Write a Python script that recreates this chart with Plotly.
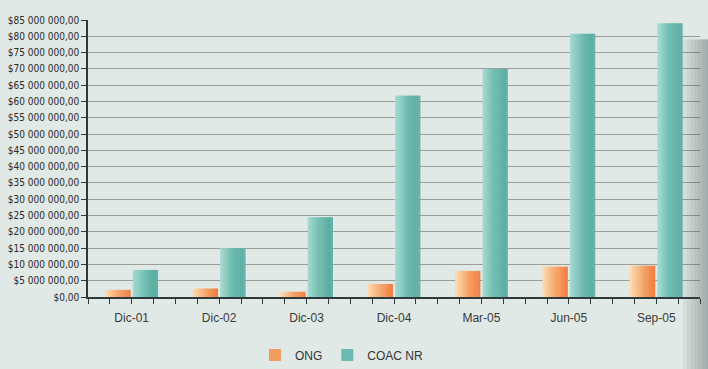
import plotly.graph_objects as go

# Quarterly balances (in dollars) per category
categories = ["Dic-01", "Dic-02", "Dic-03", "Dic-04", "Mar-05", "Jun-05", "Sep-05"]
ong_values = [2_200_000, 2_600_000, 1_600_000, 4_000_000, 8_000_000, 9_300_000, 9_600_000]
coac_values = [8_300_000, 15_000_000, 24_500_000, 61_800_000, 70_000_000, 80_800_000, 84_000_000]

y_tick_values = list(range(0, 85_000_001, 5_000_000))


def money(v):
    if v == 0:
        return "$0,00"
    return "$" + f"{v:,}".replace(",", " ") + ",00"


y_tick_labels = [money(v) for v in y_tick_values]

positions = list(range(len(categories)))

BG = "#e0e9e5"
AXIS = "#2d3a39"
LABEL_FONT = "Liberation Sans, Arial, Helvetica, sans-serif"
NARROW_FONT = "Liberation Sans Narrow, Arial Narrow, DejaVu Sans Condensed, sans-serif"

# Horizontal colour ramps used to shade each bar (left edge -> right edge)
ong_ramp = [(0.0, (252, 222, 180)), (0.5, (246, 166, 106)), (1.0, (240, 122, 60))]
coac_ramp = [(0.0, (168, 219, 210)), (0.45, (112, 189, 178)), (0.85, (92, 173, 163)), (1.0, (102, 180, 170))]


def ramp_color(ramp, t):
    for (t0, c0), (t1, c1) in zip(ramp, ramp[1:]):
        if t0 <= t <= t1:
            f = (t - t0) / (t1 - t0) if t1 > t0 else 0
            r, g, b = (round(a + (bb - a) * f) for a, bb in zip(c0, c1))
            return f"rgb({r},{g},{b})"
    r, g, b = ramp[-1][1]
    return f"rgb({r},{g},{b})"


BAR_W = 0.29
STRIPS = 12
strip_w = BAR_W / STRIPS

fig = go.Figure()


def add_shaded_bars(name, values, start, ramp, legend_strip):
    for k in range(STRIPS):
        t = (k + 0.5) / STRIPS
        fig.add_trace(
            go.Bar(
                x=positions,
                y=values,
                width=strip_w + (0.004 if k < STRIPS - 1 else 0),
                offset=start + k * strip_w,
                marker=dict(color=ramp_color(ramp, t), line=dict(width=0)),
                name=name,
                legendgroup=name,
                showlegend=(k == legend_strip),
                hovertemplate=name + ": %{y:$,.2f}<extra></extra>",
            )
        )


add_shaded_bars("ONG", ong_values, -0.302, ong_ramp, 7)
add_shaded_bars("COAC NR", coac_values, 0.012, coac_ramp, 6)

# Soft page-edge shading along the right border: overlapping translucent
# layers that all run to the edge, so the tone deepens towards the border
EDGE_STEPS = 16
EDGE_X0, EDGE_X1 = 0.972, 1.075
for i in range(EDGE_STEPS):
    x0 = EDGE_X0 + i * (EDGE_X1 - EDGE_X0) / EDGE_STEPS
    fig.add_shape(
        type="rect", xref="paper", yref="paper",
        x0=x0, x1=EDGE_X1, y0=-0.3, y1=0.93,
        fillcolor="#4a4f4f", opacity=0.07, line=dict(width=0), layer="above",
    )

fig.update_layout(
    width=708,
    height=369,
    margin=dict(l=74, r=8, t=20, b=72),
    paper_bgcolor=BG,
    plot_bgcolor=BG,
    barmode="overlay",
    showlegend=True,
    legend=dict(
        orientation="h",
        xref="container", yref="container",
        x=0.483, xanchor="center",
        y=0.038, yanchor="middle",
        font=dict(family=LABEL_FONT, size=12, color="#333333"),
        bgcolor="rgba(0,0,0,0)",
        itemwidth=30,
    ),
    xaxis=dict(
        type="linear",
        range=[-0.5, 6.5],
        tickmode="array",
        tickvals=positions,
        ticktext=categories,
        ticks="outside",
        ticklen=5,
        tickcolor=AXIS,
        ticklabelstandoff=4,
        showline=True,
        linecolor=AXIS,
        linewidth=2,
        showgrid=False,
        zeroline=False,
        tickfont=dict(family=LABEL_FONT, size=12, color="#3a3a3a"),
        minor=dict(tick0=-0.5, dtick=0.25, ticks="outside", ticklen=5, tickcolor=AXIS, showgrid=False),
    ),
    yaxis=dict(
        range=[0, 85_000_000],
        tickmode="array",
        tickvals=y_tick_values,
        ticktext=y_tick_labels,
        ticks="outside",
        ticklen=5,
        tickcolor=AXIS,
        showline=True,
        linecolor=AXIS,
        linewidth=1.5,
        showgrid=True,
        gridcolor="#9c9e96",
        gridwidth=1,
        zeroline=False,
        tickfont=dict(family=NARROW_FONT, size=10, color="#2a2a2a"),
    ),
)

fig.write_html("out.html")
